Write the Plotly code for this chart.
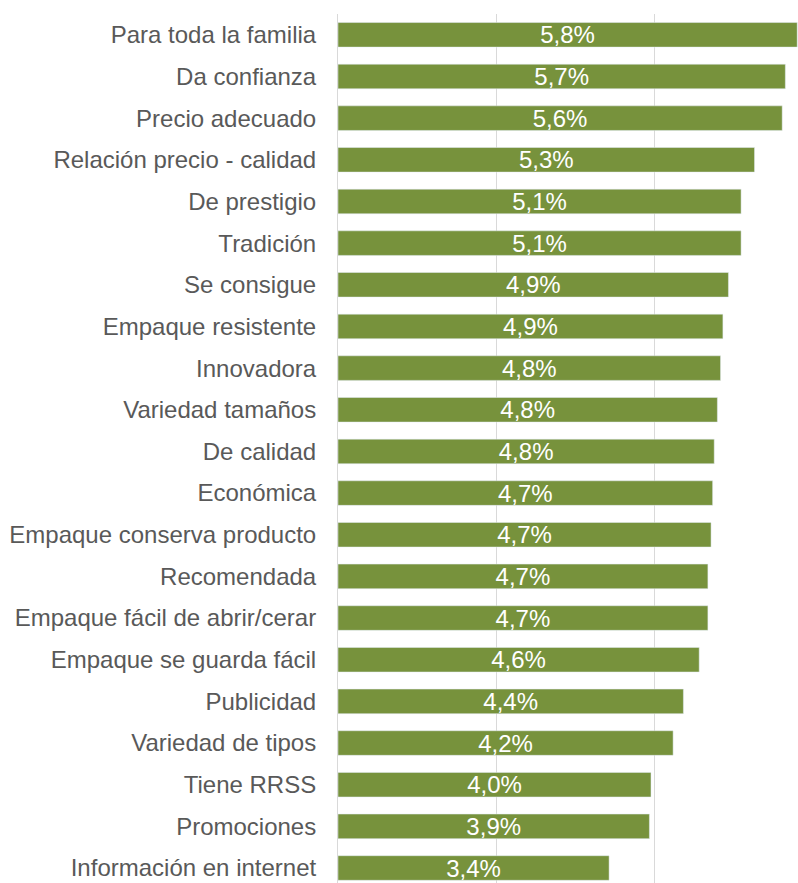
import plotly.graph_objects as go

categorias = [
    "Para toda la familia", "Da confianza", "Precio adecuado",
    "Relación precio - calidad", "De prestigio", "Tradición", "Se consigue",
    "Empaque resistente", "Innovadora", "Variedad tamaños", "De calidad",
    "Económica", "Empaque conserva producto", "Recomendada",
    "Empaque fácil de abrir/cerar", "Empaque se guarda fácil", "Publicidad",
    "Variedad de tipos", "Tiene RRSS", "Promociones", "Información en internet",
]
valores = [5.81, 5.66, 5.62, 5.27, 5.10, 5.10, 4.94, 4.87, 4.84, 4.80, 4.76,
           4.74, 4.72, 4.68, 4.68, 4.57, 4.37, 4.24, 3.96, 3.94, 3.43]

etiquetas = [f"{v:.1f}".replace(".", ",") + "%" for v in valores]

FUENTE = "Liberation Sans, Arial, sans-serif"

fig = go.Figure()
fig.add_trace(go.Bar(
    x=valores, y=categorias, orientation="h",
    marker=dict(color="#77923C"),
    text=etiquetas, textposition="inside", insidetextanchor="middle",
    constraintext="none",
    textfont=dict(family=FUENTE, size=24, color="white"),
    hoverinfo="skip",
))

fig.update_layout(
    width=798, height=883,
    margin=dict(l=338, r=0, t=14, b=0),
    paper_bgcolor="white", plot_bgcolor="white",
    bargap=0.41, showlegend=False,
    uniformtext=dict(minsize=24, mode="show"),
    font=dict(family=FUENTE, size=24, color="#595959"),
)
fig.update_xaxes(range=[0, 5.82], dtick=2, showgrid=True, gridcolor="#D9D9D9",
                 gridwidth=1, zeroline=False, showticklabels=False, fixedrange=True)
fig.update_yaxes(type="category", range=[20.36, -0.5], showline=True,
                 linecolor="#D9D9D9", linewidth=1, ticks="", ticklabelstandoff=16,
                 tickfont=dict(family=FUENTE, size=24, color="#595959"),
                 fixedrange=True)

# quitar el margen por defecto del body para que el gráfico quede en (0, 0)
fig.write_html("out.html", config={"displayModeBar": False},
               post_script="document.body.style.margin='0';")
